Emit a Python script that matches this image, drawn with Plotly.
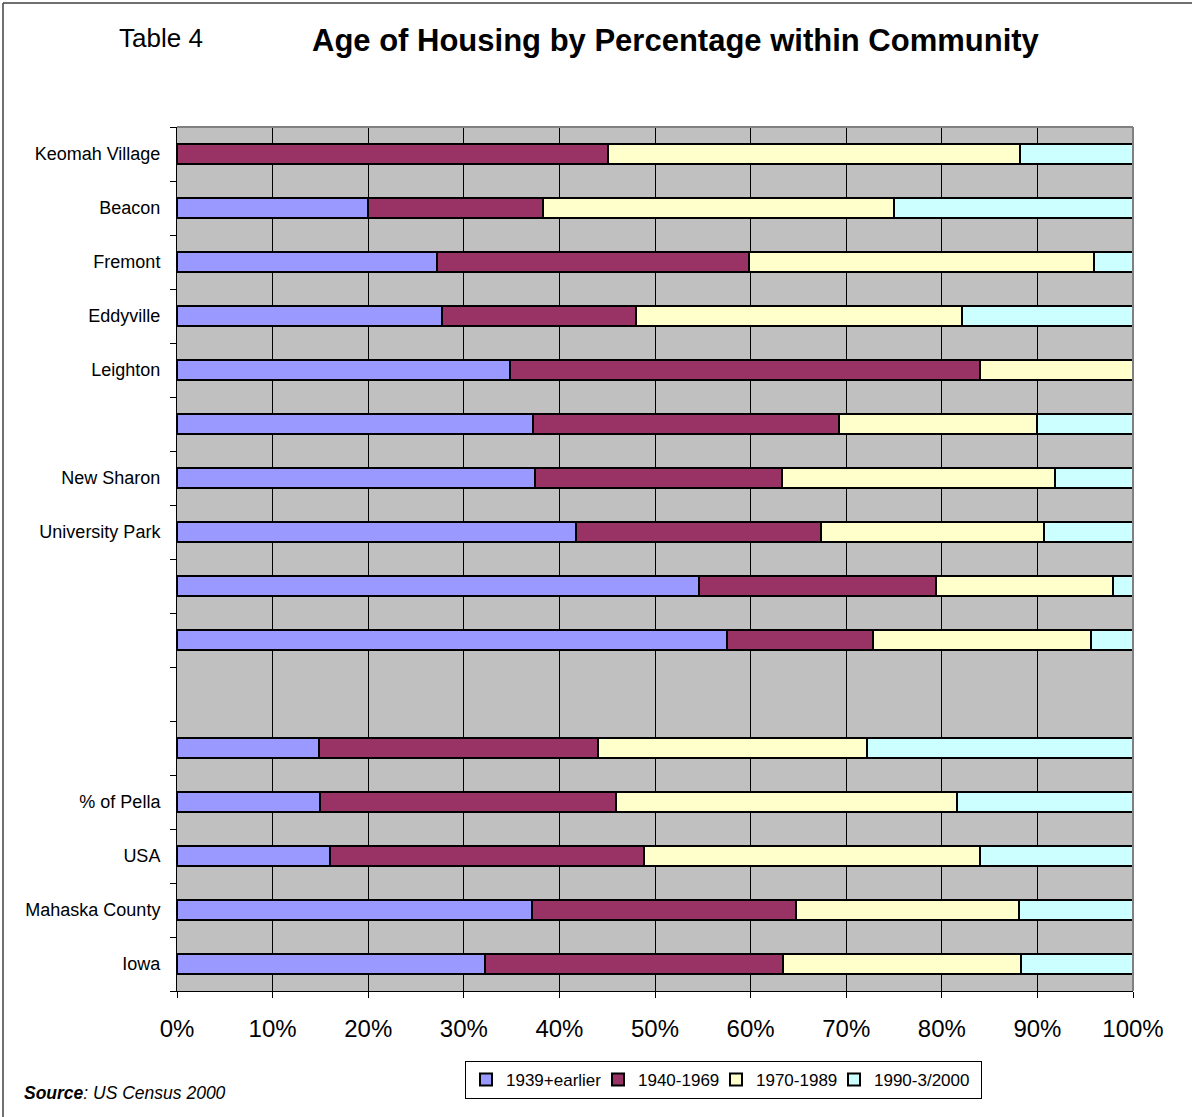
import plotly.graph_objects as go

# Rows from top to bottom; blank strings are unlabeled rows, None marks the empty row
communities = [
    "Keomah Village", "Beacon", "Fremont", "Eddyville", "Leighton", "",
    "New Sharon", "University Park", "", "", None, "",
    "% of Pella", "USA", "Mahaska County", "Iowa",
]

# Share of housing units by year built (percent of each community)
built_1939_earlier = [0.0, 20.0, 27.2, 27.7, 34.8, 37.2, 37.4, 41.7, 54.6, 57.5, None, 14.9, 15.0, 16.0, 37.1, 32.2]
built_1940_1969 = [45.1, 18.3, 32.6, 20.3, 49.2, 32.0, 25.9, 25.7, 24.8, 15.3, None, 29.1, 30.9, 32.9, 27.6, 31.2]
built_1970_1989 = [43.1, 36.7, 36.1, 34.1, 16.0, 20.8, 28.5, 23.3, 18.5, 22.8, None, 28.2, 35.7, 35.1, 23.4, 24.9]
built_1990_2000 = [11.8, 25.0, 4.1, 17.9, 0.0, 10.0, 8.2, 9.3, 2.1, 4.4, None, 27.8, 18.4, 16.0, 11.9, 11.7]

series_names = ["1939+earlier", "1940-1969", "1970-1989", "1990-3/2000"]
series_values = [built_1939_earlier, built_1940_1969, built_1970_1989, built_1990_2000]
series_colors = ["#9999FF", "#993366", "#FFFFCC", "#CCFFFF"]
legend_entry_widths = [87, 73, 73, 102]

x_ticks = list(range(0, 101, 10))

rows = list(range(len(communities)))
row_labels = ["" if c is None else c for c in communities]

W, H = 1192, 1117
L, R, T, B = 177, 1133, 127, 991


def px_x(p):
    return (p - L) / (R - L)


def px_y(p):
    return (B - p) / (B - T)


fig = go.Figure()
for name, vals, color, lw in zip(series_names, series_values, series_colors, legend_entry_widths):
    fig.add_trace(go.Bar(
        y=rows,
        x=vals,
        name=name,
        orientation="h",
        width=0.37,
        legendwidth=lw,
        marker=dict(color=color, line=dict(color="#000000", width=2)),
    ))

fig.update_layout(
    width=W,
    height=H,
    barmode="stack",
    margin=dict(l=L, r=W - R, t=T, b=H - B, autoexpand=False),
    paper_bgcolor="#FFFFFF",
    plot_bgcolor="#C0C0C0",
    font=dict(family="Liberation Sans, Arial, sans-serif", color="#000000"),
    showlegend=True,
    legend=dict(
        orientation="h",
        x=px_x(465), xanchor="left",
        y=px_y(1061), yanchor="top",
        bgcolor="#FFFFFF",
        bordercolor="#000000",
        borderwidth=1,
        font=dict(family="Liberation Sans, Arial", size=17),
        itemwidth=30,
        traceorder="normal",
    ),
    xaxis=dict(
        range=[0, 100],
        tickmode="array",
        tickvals=x_ticks,
        ticktext=[f"{v}%" for v in x_ticks],
        ticks="outside",
        ticklen=6,
        tickcolor="#000000",
        tickfont=dict(size=24, family="Liberation Sans, Arial"),
        ticklabelstandoff=10,
        showline=True,
        linecolor="#000000",
        linewidth=1,
        showgrid=True,
        gridcolor="#000000",
        gridwidth=1,
        zeroline=False,
        fixedrange=True,
    ),
    yaxis=dict(
        range=[len(rows) - 0.5, -0.5],
        tickmode="array",
        tickvals=rows,
        ticktext=row_labels,
        ticks="",
        tickfont=dict(size=18, family="Liberation Sans, Arial"),
        ticklabelstandoff=12,
        showline=True,
        linecolor="#000000",
        linewidth=1,
        showgrid=False,
        zeroline=False,
        minor=dict(
            tickmode="array",
            tickvals=[r - 0.5 for r in rows] + [len(rows) - 0.5],
            ticks="outside",
            ticklen=6,
            tickcolor="#000000",
            showgrid=False,
        ),
        fixedrange=True,
    ),
    annotations=[
        dict(text="Table 4", xref="paper", yref="paper", x=px_x(117), y=px_y(38),
             xanchor="left", yanchor="middle", showarrow=False,
             font=dict(size=26, family="Liberation Sans, Arial")),
        dict(text="<b>Age of Housing by Percentage within Community</b>", xref="paper", yref="paper",
             x=px_x(676), y=px_y(40), xanchor="center", yanchor="middle", showarrow=False,
             font=dict(size=31, family="Liberation Sans, Arial")),
        dict(text="<b><i>Source</i></b><i>: US Census 2000</i>", xref="paper", yref="paper",
             x=px_x(22), y=px_y(1093), xanchor="left", yanchor="middle", showarrow=False,
             font=dict(size=17.5, family="Liberation Sans, Arial")),
    ],
    shapes=[
        # gray frame along the top and right of the plotting area
        dict(type="line", xref="paper", yref="paper", x0=0, x1=1, y0=1, y1=1,
             line=dict(color="#808080", width=2)),
        dict(type="line", xref="paper", yref="paper", x0=1, x1=1, y0=0, y1=1,
             line=dict(color="#808080", width=2)),
        # page frame on the top and left edges
        dict(type="line", xref="paper", yref="paper", x0=px_x(3), x1=px_x(W), y0=px_y(3), y1=px_y(3),
             line=dict(color="#404040", width=1.5)),
        dict(type="line", xref="paper", yref="paper", x0=px_x(3), x1=px_x(3), y0=px_y(3), y1=px_y(H),
             line=dict(color="#404040", width=1.5)),
    ],
)

fig.write_html("out.html")
